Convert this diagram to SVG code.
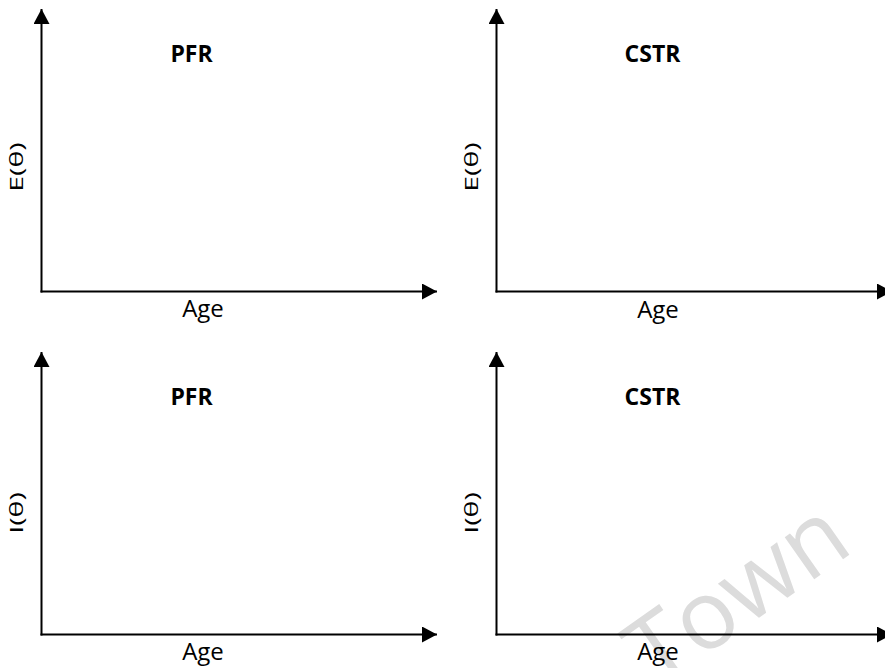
<svg xmlns="http://www.w3.org/2000/svg" width="885" height="668" viewBox="0 0 885 668">
<defs>
<marker id="arr" markerUnits="userSpaceOnUse" markerWidth="16" markerHeight="16" refX="15" refY="8" orient="auto">
<path d="M0,0 L15,8 L0,16 Z" fill="#000"/>
</marker>
<style>
.ax{stroke:#000;stroke-width:2;fill:none;marker-end:url(#arr)}
.lbl{font-family:"Open Sans","Liberation Sans",sans-serif;font-size:24px;fill:#000;text-anchor:middle}
.ttl{font-family:"Open Sans","Liberation Sans",sans-serif;font-size:23px;font-weight:bold;fill:#000;text-anchor:middle}
.ylb{font-family:"Open Sans","Liberation Sans",sans-serif;font-size:19px;fill:#000;text-anchor:middle}
.wm{font-family:"Open Sans","Liberation Sans",sans-serif;font-size:96px;fill:#dcdcdc}
</style>
</defs>
<rect width="885" height="668" fill="#fff"/>
<text class="wm" transform="translate(656,690) rotate(-35)">Town</text>
<g id="connectors">
<line class="ax" x1="41.5" y1="292.5" x2="41.5" y2="9"/>
<line class="ax" x1="40.5" y1="291.5" x2="437" y2="291.5"/>
<line class="ax" x1="496.5" y1="292.5" x2="496.5" y2="9"/>
<line class="ax" x1="495.5" y1="291.5" x2="892" y2="291.5"/>
<line class="ax" x1="41.5" y1="635.5" x2="41.5" y2="352"/>
<line class="ax" x1="40.5" y1="634.5" x2="437" y2="634.5"/>
<line class="ax" x1="496.5" y1="635.5" x2="496.5" y2="352"/>
<line class="ax" x1="495.5" y1="634.5" x2="892" y2="634.5"/>
</g>
<g id="pfr-e">
<text class="ttl" x="191.5" y="62">PFR</text>
<text class="lbl" x="203" y="317">Age</text>
<text class="ylb" transform="translate(23,167) rotate(-90) scale(1.5,1)">E(θ)</text>
</g>
<g id="cstr-e">
<text class="ttl" x="652.5" y="62">CSTR</text>
<text class="lbl" x="658" y="318">Age</text>
<text class="ylb" transform="translate(478,167) rotate(-90) scale(1.5,1)">E(θ)</text>
</g>
<g id="pfr-i">
<text class="ttl" x="191.5" y="405">PFR</text>
<text class="lbl" x="203" y="660">Age</text>
<text class="ylb" transform="translate(23,513) rotate(-90) scale(1.5,1)">I(θ)</text>
</g>
<g id="cstr-i">
<text class="ttl" x="652.5" y="405">CSTR</text>
<text class="lbl" x="658" y="660">Age</text>
<text class="ylb" transform="translate(478,513) rotate(-90) scale(1.5,1)">I(θ)</text>
</g>
</svg>
